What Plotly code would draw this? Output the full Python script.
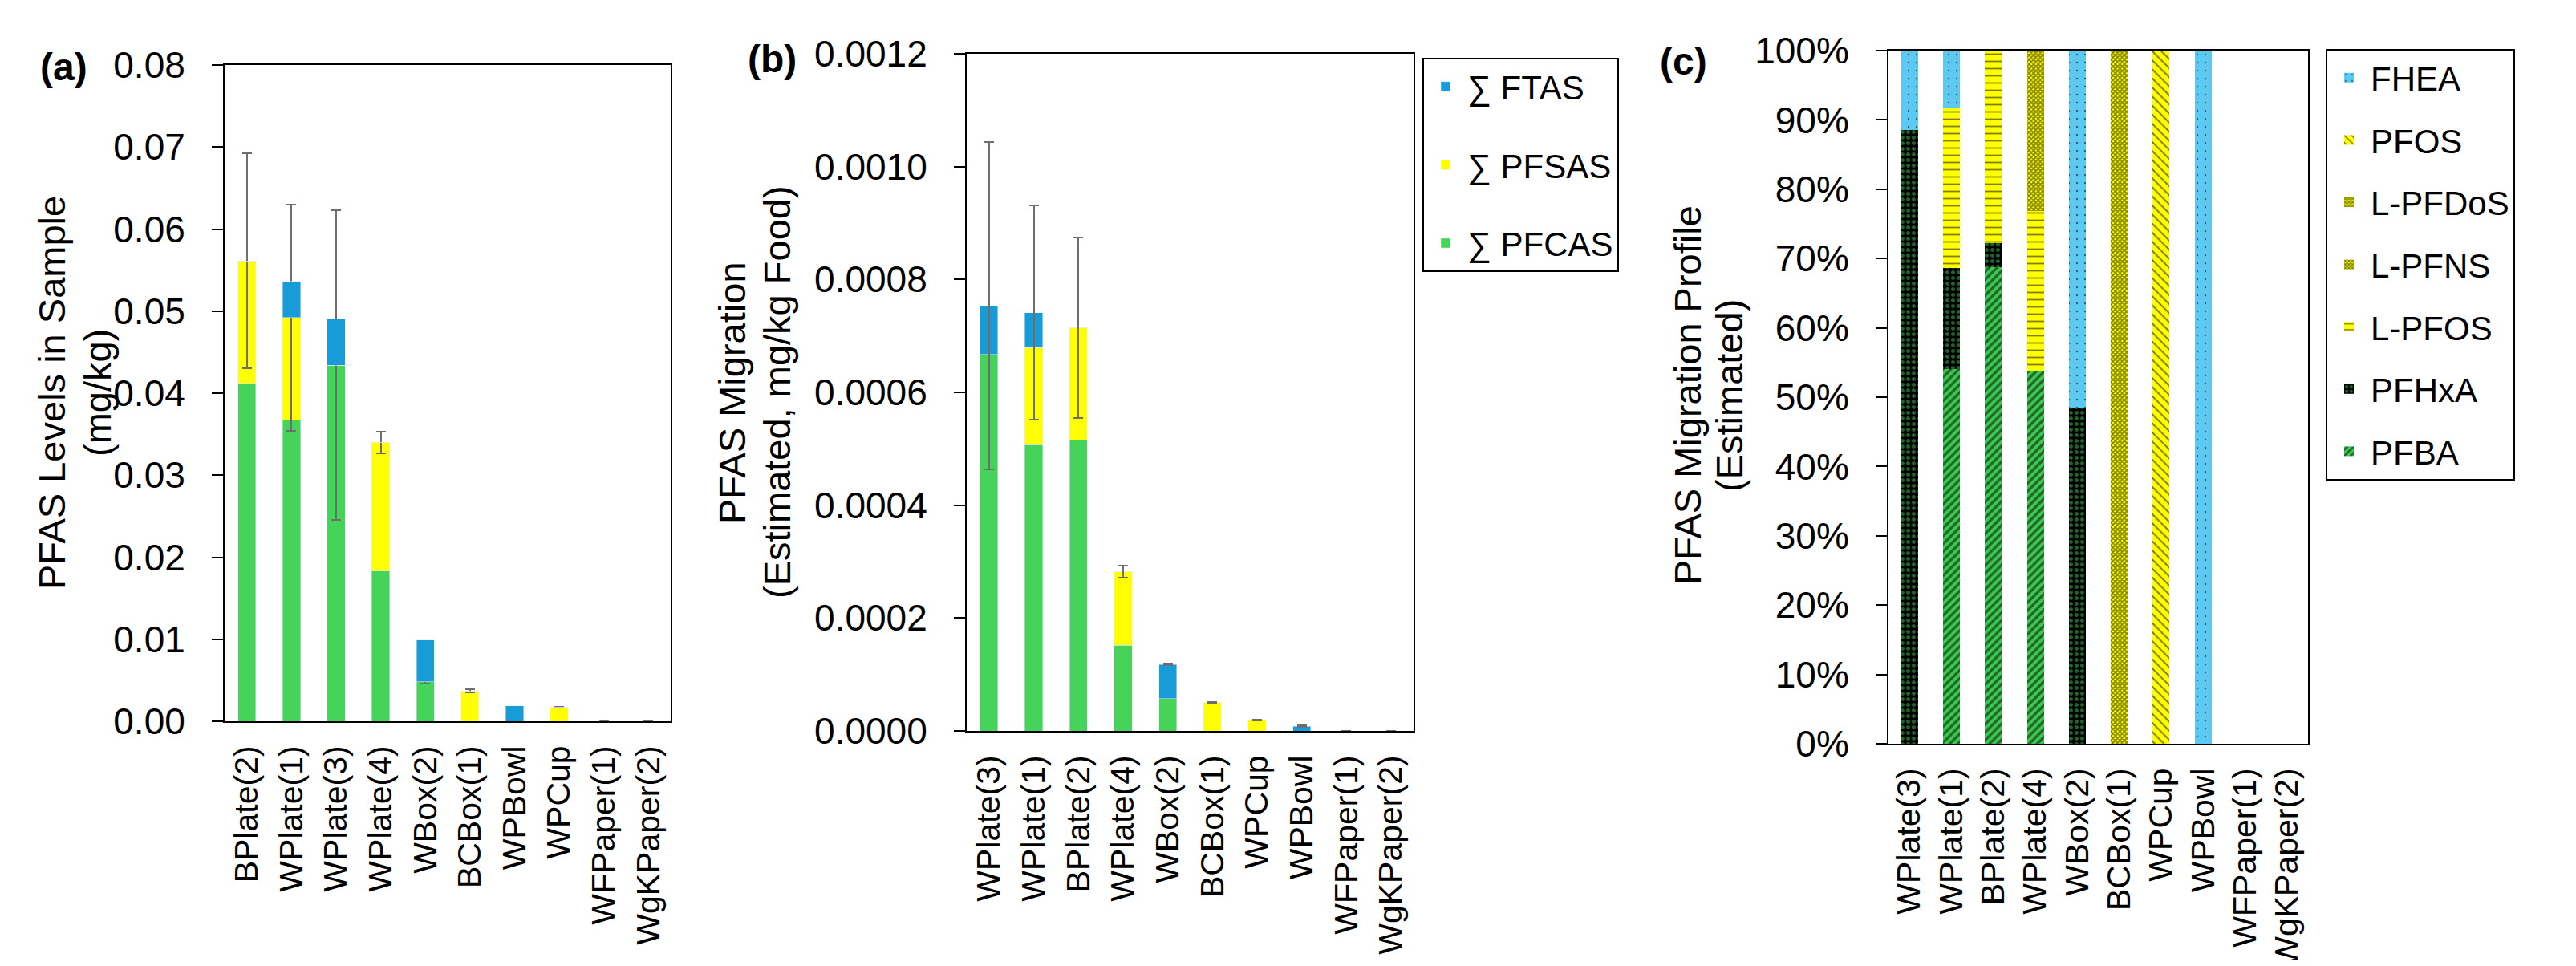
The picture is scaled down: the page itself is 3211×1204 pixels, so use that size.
import plotly.graph_objects as go

W, H = 3211, 1204
OFF = 8                      # page body margin of the browser
FW, FH = W - 2 * OFF, H - 2 * OFF
FONT = "Liberation Sans, Arial, sans-serif"

# ---------------- data ----------------
cats_a = ["BPlate(2)", "WPlate(1)", "WPlate(3)", "WPlate(4)", "WBox(2)",
          "BCBox(1)", "WPBowl", "WPCup", "WFPaper(1)", "WgKPaper(2)"]
pfcas_a = [0.0412, 0.0367, 0.0434, 0.0183, 0.0048, 0, 0, 0, 0, 0]
pfsas_a = [0.0149, 0.0125, 0, 0.0157, 0, 0.0037, 0, 0.0017, 0, 0]
ftas_a = [0, 0.0044, 0.0056, 0, 0.0051, 0, 0.0019, 0, 0, 0]
err_a = [0.0131, 0.0138, 0.0189, 0.0013, 0.0002, 0.0002, 0, 0.00005, 0, 0]

cats_b = ["WPlate(3)", "WPlate(1)", "BPlate(2)", "WPlate(4)", "WBox(2)",
          "BCBox(1)", "WPCup", "WPBowl", "WFPaper(1)", "WgKPaper(2)"]
pfcas_b = [0.000667, 0.000507, 0.000516, 0.000152, 0.000057, 0, 0, 0, 0, 0]
pfsas_b = [0, 0.000172, 0.000199, 0.000130, 0, 0.000050, 0.000019, 0, 0, 0]
ftas_b = [0.000086, 0.000062, 0, 0, 0.000061, 0, 0, 0.0000085, 0, 0]
err_b = [0.000290, 0.000190, 0.000160, 0.000011, 0.000002, 0.000001,
         0.000001, 0.000001, 0, 0]

cats_c = ["WPlate(3)", "WPlate(1)", "BPlate(2)", "WPlate(4)", "WBox(2)",
          "BCBox(1)", "WPCup", "WPBowl", "WFPaper(1)", "WgKPaper(2)"]
pfba_c = [0, 54.1, 68.7, 53.8, 0, 0, 0, 0, 0, 0]
pfhxa_c = [88.5, 14.5, 3.5, 0, 48.5, 0, 0, 0, 0, 0]
lpfos_c = [0, 23.1, 27.8, 23.0, 0, 0, 0, 0, 0, 0]
lpfns_c = [0, 0, 0, 23.2, 0, 0, 0, 0, 0, 0]
lpfdos_c = [0, 0, 0, 0, 0, 100, 0, 0, 0, 0]
pfos_c = [0, 0, 0, 0, 0, 0, 100, 0, 0, 0]
fhea_c = [11.5, 8.3, 0, 0, 51.5, 0, 0, 100, 0, 0]

ticks_a = [0, 0.01, 0.02, 0.03, 0.04, 0.05, 0.06, 0.07, 0.08]
ticks_b = [0, 0.0002, 0.0004, 0.0006, 0.0008, 0.0010, 0.0012]
ticks_c = [0, 10, 20, 30, 40, 50, 60, 70, 80, 90, 100]
ticktext_c = ["0%", "10%", "20%", "30%", "40%", "50%", "60%", "70%", "80%", "90%", "100%"]

# ---------------- styles ----------------
BLUE = "#179CD7"
YELLOW = "#FFFF00"
GREEN = "#45D35A"
LBLUE = "#5DC9F1"
DGREEN = "#3DC850"
ERRC = "#6E6E6E"


def px(x):
    return (x - OFF) / FW


def py(y):
    return 1 - (y - OFF) / FH


fig = go.Figure()

err_style = dict(type="data", color=ERRC, thickness=2, width=6)

# panel (a)
fig.add_trace(go.Bar(x=cats_a, y=pfcas_a, name="∑ PFCAS", marker_color=GREEN,
                     showlegend=False, xaxis="x", yaxis="y", legendgroup="pfcas"))
fig.add_trace(go.Bar(x=cats_a, y=pfsas_a, name="∑ PFSAS", marker_color=YELLOW,
                     showlegend=False, xaxis="x", yaxis="y", legendgroup="pfsas",
                     error_y=dict(array=err_a, **err_style)))
fig.add_trace(go.Bar(x=cats_a, y=ftas_a, name="∑ FTAS", marker_color=BLUE,
                     showlegend=False, xaxis="x", yaxis="y", legendgroup="ftas"))

# panel (b)
fig.add_trace(go.Bar(x=cats_b, y=pfcas_b, name="∑ PFCAS", marker_color=GREEN,
                     xaxis="x2", yaxis="y2", legend="legend", legendgroup="pfcas",
                     legendrank=3))
fig.add_trace(go.Bar(x=cats_b, y=pfsas_b, name="∑ PFSAS", marker_color=YELLOW,
                     xaxis="x2", yaxis="y2", legend="legend", legendgroup="pfsas",
                     legendrank=2))
fig.add_trace(go.Bar(x=cats_b, y=ftas_b, name="∑ FTAS", marker_color=BLUE,
                     xaxis="x2", yaxis="y2", legend="legend", legendgroup="ftas",
                     legendrank=1, error_y=dict(array=err_b, **err_style)))

# panel (c)
c_series = [
    ("PFBA", pfba_c, dict(shape="/", bgcolor=DGREEN, fgcolor="black", size=7, solidity=0.45)),
    ("PFHxA", pfhxa_c, dict(shape=".", bgcolor="black", fgcolor=DGREEN, size=7, solidity=0.4)),
    ("L-PFOS", lpfos_c, dict(shape="-", bgcolor=YELLOW, fgcolor="black", size=9, solidity=0.2)),
    ("L-PFNS", lpfns_c, dict(shape="x", bgcolor=YELLOW, fgcolor="black", size=4, solidity=0.65)),
    ("L-PFDoS", lpfdos_c, dict(shape="x", bgcolor=YELLOW, fgcolor="black", size=4, solidity=0.65)),
    ("PFOS", pfos_c, dict(shape="\\", bgcolor=YELLOW, fgcolor="black", size=8, solidity=0.25)),
    ("FHEA", fhea_c, dict(shape=".", bgcolor=LBLUE, fgcolor="black", size=10, solidity=0.05)),
]
n_c = len(c_series)
for i, (name, vals, pat) in enumerate(c_series):
    fig.add_trace(go.Bar(x=cats_c, y=vals, name=name,
                         marker=dict(color=pat["bgcolor"], pattern=pat, line=dict(width=0)),
                         xaxis="x3", yaxis="y3", legend="legend2", legendgroup=name,
                         legendrank=n_c - i))

tickfont = dict(family=FONT, size=46, color="black")
catfont = dict(family=FONT, size=41, color="black")

xcommon = dict(showline=True, linecolor="black", linewidth=2, mirror=True,
               ticks="", tickangle=-90, tickfont=catfont, showgrid=False,
               zeroline=False, ticklabelstandoff=12, range=[-0.5, 9.5])
ycommon = dict(showline=True, linecolor="black", linewidth=2, mirror=True,
               ticks="outside", ticklen=14, tickwidth=2, tickcolor="black",
               tickfont=tickfont, showgrid=False, zeroline=False,
               ticklabelstandoff=24)

fig.update_layout(
    width=FW, height=FH,
    margin=dict(l=0, r=0, t=0, b=0, pad=0, autoexpand=False),
    paper_bgcolor="white", plot_bgcolor="white",
    barmode="stack", bargap=0.6,
    font=dict(family=FONT, color="black"),
    xaxis=dict(domain=[px(280), px(836)], anchor="y", **xcommon),
    yaxis=dict(domain=[py(899), py(81)], anchor="x", range=[0, 0.08],
               tickvals=ticks_a, tickformat=".2f", **ycommon),
    xaxis2=dict(domain=[px(1205), px(1762)], anchor="y2", **xcommon),
    yaxis2=dict(domain=[py(911), py(67)], anchor="x2", range=[0, 0.0012],
                tickvals=ticks_b, tickformat=".4f", **ycommon),
    xaxis3=dict(domain=[px(2354), px(2877)], anchor="y3", **xcommon),
    yaxis3=dict(domain=[py(927), py(63)], anchor="x3", range=[0, 100],
                tickvals=ticks_c, ticktext=ticktext_c, **ycommon),
    legend=dict(x=px(1773), y=py(72), xanchor="left", yanchor="top",
                bordercolor="black", borderwidth=2, bgcolor="white",
                font=dict(family=FONT, size=42, color="black"),
                traceorder="grouped", tracegroupgap=40, itemwidth=44),
    legend2=dict(x=px(2899), y=py(61), xanchor="left", yanchor="top",
                 bordercolor="black", borderwidth=2, bgcolor="white",
                 font=dict(family=FONT, size=42, color="black"),
                 traceorder="grouped", tracegroupgap=20, itemwidth=44),
)

# panel labels
for label, x, y in [("(a)", 79, 83), ("(b)", 962, 73), ("(c)", 2098, 77)]:
    fig.add_annotation(text="<b>" + label + "</b>", x=px(x), y=py(y), xref="paper", yref="paper",
                       xanchor="center", yanchor="middle", showarrow=False,
                       font=dict(family=FONT, size=48, color="black"))

# y-axis titles (two lines each)
titles = [
    ("PFAS Levels in Sample", 64, 490), ("(mg/kg)", 121, 490),
    ("PFAS Migration", 913, 489), ("(Estimated, mg/kg Food)", 969, 489),
    ("PFAS Migration Profile", 2103, 493), ("(Estimated)", 2155, 493),
]
for text, x, y in titles:
    fig.add_annotation(text=text, x=px(x), y=py(y), xref="paper", yref="paper",
                       xanchor="center", yanchor="middle", showarrow=False,
                       textangle=-90, font=dict(family=FONT, size=47, color="black"))

fig.write_html("out.html")
